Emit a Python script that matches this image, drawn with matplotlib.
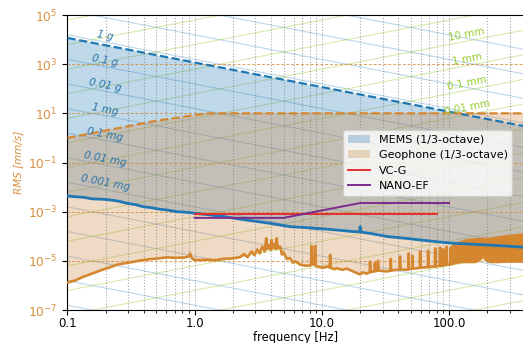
import numpy as np
import matplotlib
matplotlib.use("Agg")
import matplotlib.pyplot as plt
from matplotlib.patches import Patch
from matplotlib.lines import Line2D
from matplotlib.ticker import NullLocator, NullFormatter, LogLocator

# MEMS noise floor (1/3-octave RMS), mm/s
mems_f = [0.1, 0.111, 0.13, 0.16, 0.19, 0.216, 0.25, 0.292, 0.34, 0.392, 0.46,
          0.533, 0.62, 0.722, 0.85, 1.0, 1.3, 1.68, 2.2, 3.07, 4.0, 5.61, 7.5,
          10.2, 13.0, 17.6, 19.8, 20.0, 20.3, 25.0, 32.3, 45.0, 59.0, 80.0,
          107.0, 146.0, 200.0, 280.0, 381.0]
mems_v = [4.4e-3, 4.1e-3, 3.9e-3, 3.3e-3, 3.2e-3, 3.0e-3, 2.7e-3, 2.2e-3,
          1.95e-3, 1.6e-3, 1.45e-3, 1.25e-3, 1.15e-3, 1.0e-3, 9.5e-4, 8.7e-4,
          7.4e-4, 6.4e-4, 5.1e-4, 4.0e-4, 3.3e-4, 2.45e-4, 2.25e-4, 2.0e-4,
          1.8e-4, 1.55e-4, 1.5e-4, 2.45e-4, 1.48e-4, 1.26e-4, 9.8e-5, 8.3e-5,
          7.1e-5, 6.0e-5, 5.2e-5, 4.8e-5, 4.4e-5, 4.0e-5, 3.6e-5]

# MEMS upper limit
mems_top_f = [0.1, 381.0]
mems_top_v = [1.17e4, 3.07]

# Geophone noise floor, mm/s
geo_f = [0.1, 0.115, 0.133, 0.15, 0.18, 0.21, 0.244, 0.28, 0.329, 0.38,
         0.446, 0.52, 0.603, 0.72, 0.85, 0.91, 0.92, 0.93, 0.98, 1.1,
         1.24, 1.45, 1.68, 2.0,
         2.27, 2.45, 2.6, 2.8, 2.95, 3.1, 3.25, 3.4, 3.55, 3.65,
         3.72, 3.85, 3.95, 4.03, 4.12, 4.25, 4.35, 4.41, 4.5, 4.7,
         4.85, 5.0, 5.3, 5.61, 5.9, 6.2, 6.71,
         7.5, 8.2, 8.31, 8.45, 8.8, 8.83, 8.95, 9.5, 10.2, 11.0,
         11.5, 11.6, 11.75, 12.5, 13.1, 14.5, 15.7, 17.6, 20.0, 21.0,
         22.5, 23.8, 23.9, 24.1, 26.0, 26.1, 26.3, 27.5, 27.6, 27.8,
         32.3, 34.7, 34.8, 35.0, 41.0, 41.1, 41.3, 46.4, 48.0, 48.1,
         48.3, 51.5, 51.6, 51.8, 59.0, 59.2, 59.4, 68.3, 68.4, 68.6,
         77.6, 77.7, 77.9, 84.8, 84.9, 85.1, 89.7, 89.8, 90.0, 95.6,
         95.7, 95.9, 100.0]
geo_v = [1.32e-6, 1.58e-6, 2.24e-6, 2.8e-6, 4.0e-6, 5.2e-6, 6.9e-6, 7.9e-6, 9.1e-6, 1.05e-5,
         1.17e-5, 1.26e-5, 1.38e-5, 1.32e-5, 1.38e-5, 1.58e-5, 2.0e-5, 1.5e-5, 1.12e-5, 1.07e-5,
         1.12e-5, 1.07e-5, 1.2e-5, 1.26e-5,
         1.41e-5, 1.9e-5, 1.4e-5, 2.4e-5, 1.7e-5, 2.9e-5, 2.0e-5, 3.8e-5, 2.4e-5, 8.3e-5,
         3.0e-5, 4.5e-5, 2.8e-5, 7.1e-5, 3.2e-5, 4.8e-5, 3.0e-5, 8.3e-5, 3.2e-5, 3.8e-5,
         1.8e-5, 2.2e-5, 1.2e-5, 1.3e-5, 8.5e-6, 9.5e-6, 7.1e-6,
         6.3e-6, 6.6e-6, 4.0e-5, 7.1e-6, 7.1e-6, 4.0e-5, 6.3e-6, 5.6e-6, 5.2e-6, 5.8e-6,
         5.4e-6, 1.74e-5, 5.2e-6, 4.6e-6, 5.0e-6, 4.3e-6, 4.8e-6, 3.7e-6, 2.8e-6, 3.4e-6,
         3.0e-6, 3.5e-6, 9.3e-6, 3.5e-6, 3.8e-6, 8.0e-6, 3.8e-6, 4.0e-6, 1.0e-5, 4.0e-6,
         3.7e-6, 4.0e-6, 1.2e-5, 4.0e-6, 4.5e-6, 1.5e-5, 4.5e-6, 4.3e-6, 4.6e-6, 2.0e-5,
         4.6e-6, 4.8e-6, 1.6e-5, 4.8e-6, 5.2e-6, 2.4e-5, 5.2e-6, 5.6e-6, 2.6e-5, 5.6e-6,
         6.0e-6, 3.2e-5, 6.0e-6, 6.3e-6, 3.5e-5, 6.3e-6, 6.6e-6, 3.0e-5, 6.6e-6, 7.0e-6,
         3.8e-5, 7.0e-6, 7.1e-6]

# dense high-frequency part of the geophone trace (lower / upper edge)
band_f = [100.0, 110.0, 122.0, 135.0, 146.0, 160.0, 175.0, 183.0, 192.0,
          210.0, 240.0, 284.0, 330.0, 381.0]
band_lo = [7.1e-6, 7.9e-6, 8.9e-6, 8.9e-6, 8.9e-6, 8.9e-6, 1.12e-5, 1.58e-5,
           1.05e-5, 8.9e-6, 8.9e-6, 9.3e-6, 9.3e-6, 9.3e-6]
band_hi = [3.5e-5, 5.0e-5, 6.3e-5, 7.6e-5, 7.9e-5, 8.3e-5, 8.5e-5, 8.9e-5,
           8.5e-5, 8.9e-5, 1.0e-4, 1.12e-4, 1.2e-4, 1.32e-4]

# Geophone upper limit
geo_top_f = [0.1, 0.5, 0.77, 1.0, 1.3, 381.0]
geo_top_v = [1.0, 5.0, 6.9, 8.6, 10.0, 10.0]

# vibration criteria
vcg_f = [1.0, 80.0]
vcg_v = [7.8e-4, 7.8e-4]
nano_f = [1.0, 5.0, 20.0, 100.0]
nano_v = [5.6e-4, 5.6e-4, 2.25e-3, 2.25e-3]

# reference lines
accel_levels_g = [10.0 ** k for k in range(-13, 4)]
accel_labels = {1.0: "1 g", 0.1: "0.1 g", 0.01: "0.01 g", 1e-3: "1 mg",
                1e-4: "0.1 mg", 1e-5: "0.01 mg", 1e-6: "0.001 mg"}
disp_levels_mm = [10.0 ** k for k in range(-10, 6)]
disp_labels = {10.0: "10 mm", 1.0: "1 mm", 0.1: "0.1 mm", 0.01: "0.01 mm"}

G_MM = 9810.0
F_MIN, F_MAX = 0.1, 381.0

BLUE = "#1f77b4"
ORANGE = "#d4872f"
TICK_ORANGE = "#d8903f"

fig = plt.figure(figsize=(5.23, 3.43), dpi=100)
ax = fig.add_axes([0.129, 0.0962, 0.871, 0.86])
ax.set_xscale("log")
ax.set_yscale("log")
ax.set_xlim(F_MIN, F_MAX)
ax.set_ylim(1e-7, 1e5)

# angle of the reference lines on screen
p0 = ax.transData.transform((1.0, 1.0))
p1 = ax.transData.transform((10.0, 0.1))
ang = np.degrees(np.arctan2(p1[1] - p0[1], p1[0] - p0[0]))

fr = np.array([F_MIN, F_MAX])
for a in accel_levels_g:
    ax.plot(fr, a * G_MM / (2 * np.pi * fr), color=BLUE, alpha=0.3, lw=0.8, zorder=1)
for d in disp_levels_mm:
    ax.plot(fr, 2 * np.pi * fr * d, color="yellowgreen", alpha=0.4, lw=0.8, zorder=1)

for a, txt in accel_labels.items():
    f0 = 0.197
    ax.text(f0, a * G_MM / (2 * np.pi * f0) * 1.8, txt, rotation=ang,
            rotation_mode="anchor", ha="center", va="center", fontsize=7.5,
            style="italic", color="#2a73a8", zorder=5)
for d, txt in disp_labels.items():
    f0 = 138.0
    ax.text(f0, 2 * np.pi * f0 * d * 1.9, txt, rotation=-ang,
            rotation_mode="anchor", ha="center", va="center", fontsize=7.5,
            color="#9acd32", zorder=5)

# shaded ranges
ax.fill(mems_top_f + mems_f[::-1], mems_top_v + mems_v[::-1],
        color=BLUE, alpha=0.28, lw=0, zorder=1.2)
ax.fill(geo_top_f + band_f[::-1] + geo_f[::-1],
        geo_top_v + band_lo[::-1] + geo_v[::-1],
        color="peru", alpha=0.3, lw=0, zorder=1.2)

ax.plot(mems_top_f, mems_top_v, color=BLUE, ls="--", lw=1.6, zorder=3)
ax.plot(geo_top_f, geo_top_v, color=ORANGE, ls="--", lw=1.6, zorder=3)

ax.plot(geo_f, geo_v, color=ORANGE, lw=1.9, zorder=3)
ax.fill_between(band_f, band_lo, band_hi, color=ORANGE, lw=1.0, zorder=3)
ax.plot(mems_f, mems_v, color=BLUE, lw=2.0, zorder=3.1)

ax.plot(vcg_f, vcg_v, color="#e03030", lw=1.4, zorder=4)
ax.plot(nano_f, nano_v, color="#7b2a8e", lw=1.4, zorder=4)

# axes styling
ax.set_xticks([0.1, 1, 10, 100])
ax.set_xticklabels(["0.1", "1.0", "10.0", "100.0"])
ax.xaxis.set_minor_locator(LogLocator(base=10, subs=np.arange(2, 10)))
ax.xaxis.set_minor_formatter(NullFormatter())
ax.set_yticks([1e-7, 1e-5, 1e-3, 1e-1, 1e1, 1e3, 1e5])
ax.yaxis.set_minor_locator(NullLocator())
ax.tick_params(axis="x", labelsize=8.5, pad=1.5)
ax.tick_params(axis="y", labelsize=8.8, labelcolor=TICK_ORANGE)

ax.grid(True, which="both", axis="x", color="gray", ls=":", lw=0.8, alpha=0.7)
ax.grid(True, which="major", axis="y", color=ORANGE, ls=(0, (3, 2)), lw=0.7, alpha=0.8)
ax.spines["right"].set_visible(False)

ax.set_xlabel("frequency [Hz]", fontsize=8.3, labelpad=0.5)
ax.set_ylabel("RMS [mm/s]", fontsize=7.5, style="italic", color=TICK_ORANGE)

handles = [
    Patch(facecolor=BLUE, alpha=0.28, label="MEMS (1/3-octave)"),
    Patch(facecolor="peru", alpha=0.3, label="Geophone (1/3-octave)"),
    Line2D([], [], color="#e03030", lw=1.4, label="VC-G"),
    Line2D([], [], color="#7b2a8e", lw=1.4, label="NANO-EF"),
]
ax.legend(handles=handles, loc="upper left", bbox_to_anchor=(0.605, 0.61),
          borderaxespad=0, fontsize=8, framealpha=0.8)

fig.savefig("out.png", dpi=100)
